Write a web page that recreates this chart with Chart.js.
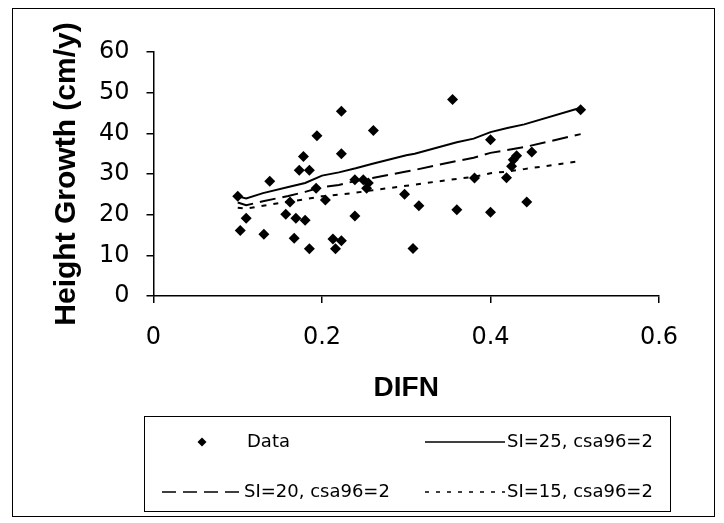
<!DOCTYPE html>
<html>
<head>
<meta charset="utf-8">
<script src="https://cdn.jsdelivr.net/npm/chart.js@4/dist/chart.umd.min.js"></script>
<style>
  html, body { margin: 0; padding: 0; background: #fff; }
  #wrap { width: 724px; height: 523px; position: relative; }
</style>
</head>
<body>
<div id="wrap"><canvas id="growthChart" width="724" height="523"></canvas></div>
<script>
// Measured light (DIFN) vs. height growth
const difn = [0.100, 0.110, 0.103, 0.131, 0.138, 0.157, 0.162, 0.167, 0.169, 0.180,
  0.173, 0.185, 0.178, 0.185, 0.193, 0.194, 0.204, 0.213, 0.216, 0.223,
  0.223, 0.223, 0.239, 0.239, 0.249, 0.255, 0.253, 0.261, 0.298, 0.315,
  0.308, 0.355, 0.360, 0.381, 0.400, 0.400, 0.419, 0.425, 0.427, 0.431,
  0.449, 0.443, 0.507]
const growth = [24.5, 19.1, 16.1, 15.2, 28.2, 20.1, 23.1, 14.2, 19.1, 18.6,
  30.9, 30.9, 34.3, 11.6, 26.5, 39.4, 23.6, 14.0, 11.6, 13.6,
  45.4, 35.0, 19.7, 28.6, 28.6, 27.8, 26.5, 40.7, 25.0, 22.2,
  11.7, 48.3, 21.2, 29.0, 38.4, 20.6, 29.1, 31.9, 33.5, 34.5,
  35.4, 23.1, 45.8]

// Model predictions for three site indices
const modelX = [0.10, 0.11, 0.13, 0.16, 0.18, 0.20, 0.22, 0.24, 0.26, 0.30, 0.31, 0.36, 0.38, 0.40, 0.42, 0.44, 0.507]
const si25 = [24.5, 24.0, 25.3, 26.8, 27.8, 29.6, 30.4, 31.4, 32.5, 34.6, 35.0, 37.8, 38.7, 40.3, 41.3, 42.2, 46.3]
const si20 = [23.0, 22.3, 23.3, 24.6, 25.6, 26.8, 27.3, 28.3, 29.0, 30.6, 31.0, 33.2, 34.0, 35.2, 35.9, 36.6, 39.8]
const si15 = [21.7, 21.5, 22.2, 23.2, 23.8, 24.5, 24.9, 25.4, 26.0, 27.1, 27.4, 28.8, 29.3, 30.2, 30.6, 31.2, 33.2]

const xTicks = [0, 0.2, 0.4, 0.6]
const yTicks = [0, 10, 20, 30, 40, 50, 60]

const toPoints = (xs, ys) => xs.map((x, i) => ({ x: x, y: ys[i] }))

// Boxed legend under the plot plus the outer frame
const frameLegend = {
  id: "frameLegend",
  afterDraw(chart) {
    const ctx = chart.ctx
    ctx.save()
    ctx.strokeStyle = "#000"
    ctx.lineWidth = 1
    ctx.strokeRect(12.5, 8.5, 702, 508)
    ctx.strokeRect(144.5, 416.5, 526, 95)

    const rows = [
      { ds: 0, sx: 162, tx: 247, y: 442 },
      { ds: 1, sx: 425, tx: 507, y: 442 },
      { ds: 2, sx: 162, tx: 244, y: 492 },
      { ds: 3, sx: 425, tx: 507, y: 492 }
    ]
    ctx.font = "18px 'DejaVu Sans'"
    ctx.textBaseline = "middle"
    ctx.fillStyle = "#000"
    rows.forEach(r => {
      const ds = chart.data.datasets[r.ds]
      if (ds.showLine) {
        ctx.setLineDash(ds.legendDash || [])
        ctx.lineWidth = 1.5
        ctx.beginPath()
        ctx.moveTo(r.sx, r.y)
        ctx.lineTo(r.sx + 80, r.y)
        ctx.stroke()
        ctx.setLineDash([])
      } else {
        const c = r.sx + 40, s = 4.5
        ctx.beginPath()
        ctx.moveTo(c, r.y - s)
        ctx.lineTo(c + s, r.y)
        ctx.lineTo(c, r.y + s)
        ctx.lineTo(c - s, r.y)
        ctx.closePath()
        ctx.fill()
      }
      ctx.fillText(ds.label, r.tx, r.y)
    })
    ctx.restore()
  }
}

new Chart(document.getElementById("growthChart"), {
  type: "scatter",
  data: {
    datasets: [
      {
        label: "Data",
        data: toPoints(difn, growth),
        pointStyle: "rectRot",
        pointRadius: 5.5,
        backgroundColor: "#000",
        borderColor: "#000",
        borderWidth: 0,
        order: 0
      },
      {
        label: "SI=25, csa96=2",
        data: toPoints(modelX, si25),
        showLine: true,
        pointRadius: 0,
        borderColor: "#000",
        borderWidth: 2,
        order: 1
      },
      {
        label: "SI=20, csa96=2",
        data: toPoints(modelX, si20),
        showLine: true,
        pointRadius: 0,
        borderColor: "#000",
        borderWidth: 2,
        borderDash: [16, 7],
        legendDash: [14, 7],
        order: 2
      },
      {
        label: "SI=15, csa96=2",
        data: toPoints(modelX, si15),
        showLine: true,
        pointRadius: 0,
        borderColor: "#000",
        borderWidth: 2,
        borderDash: [5, 7],
        legendDash: [4, 7],
        order: 3
      }
    ]
  },
  options: {
    responsive: false,
    animation: false,
    devicePixelRatio: 1,
    layout: { padding: { left: 12, top: 52, right: 65, bottom: 113 } },
    plugins: { legend: { display: false }, tooltip: { enabled: false } },
    scales: {
      x: {
        type: "linear",
        min: 0,
        max: 0.6,
        afterBuildTicks: (scale) => { scale.ticks = xTicks.map(v => ({ value: v })) },
        afterFit: (scale) => { scale.height = 114 },
        ticks: {
          color: "#000",
          padding: 20,
          font: { family: "'DejaVu Sans'", size: 24 },
          callback: (v) => v === 0 ? "0" : v.toFixed(1)
        },
        grid: { display: true, drawOnChartArea: false, drawTicks: true, tickLength: 7, color: "#000", lineWidth: 1.5 },
        border: { display: true, color: "#000", width: 1.5 },
        title: {
          display: true,
          text: "DIFN",
          color: "#000",
          font: { family: "'Liberation Sans'", size: 28, weight: "bold" },
          padding: { top: 0, bottom: 5 }
        }
      },
      y: {
        min: 0,
        max: 60,
        afterBuildTicks: (scale) => { scale.ticks = yTicks.map(v => ({ value: v })) },
        afterFit: (scale) => { scale.width = 141.5 },
        ticks: {
          color: "#000",
          padding: 17,
          font: { family: "'DejaVu Sans'", size: 24 }
        },
        grid: { display: true, drawOnChartArea: false, drawTicks: true, tickLength: 7, color: "#000", lineWidth: 1.5 },
        border: { display: true, color: "#000", width: 1.5 },
        title: {
          display: true,
          text: "Height Growth (cm/y)",
          color: "#000",
          font: { family: "'Liberation Sans'", size: 30, weight: "bold" },
          padding: { top: 37, bottom: 0 }
        }
      }
    }
  },
  plugins: [frameLegend]
})
</script>
</body>
</html>
